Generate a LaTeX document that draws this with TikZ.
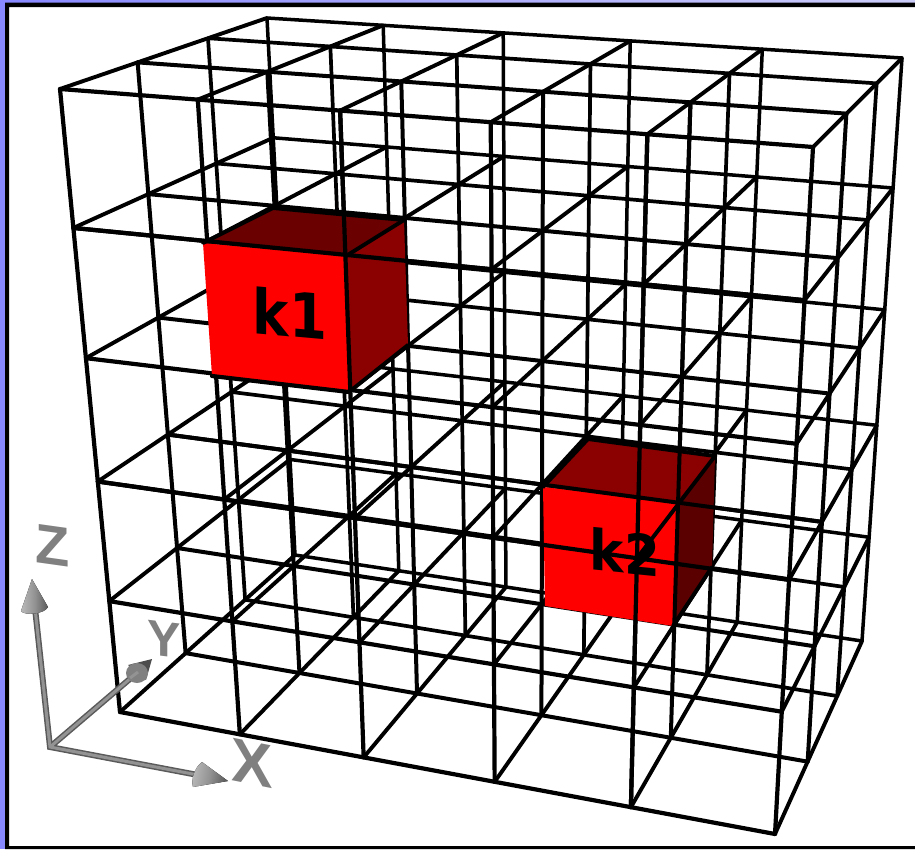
\documentclass[tikz,border=0pt]{standalone}
\usepackage{fontspec}
\usepackage{xcolor}
\newfontfamily\heavyfont{DejaVu Sans Bold}
\newfontfamily\axisfont{Liberation Sans Bold}
\usetikzlibrary{calc}
\definecolor{frameblue}{RGB}{136,136,255}
\definecolor{framepale}{RGB}{205,205,250}
\definecolor{topfaceA}{RGB}{106,0,0}
\definecolor{sidefaceA}{RGB}{139,0,0}
\definecolor{topfaceB}{RGB}{139,0,0}
\definecolor{sidefaceB}{RGB}{90,0,0}
\definecolor{axisgrey}{RGB}{128,128,128}
\newcommand{\gridX}{0/0,1/0.183,2/0.372,3/0.572,4/0.78,5/1}
\newcommand{\gridY}{0/0/4.2,1/0.375/4,2/0.715/3.7,3/1/3.5}
\newcommand{\gridZ}{0/0,1/0.223,2/0.432,3/0.63,4/0.822,5/1}

\begin{document}
\begin{tikzpicture}[
    x=1pt,y=-1pt,
    wire/.style={draw=black,line width=4.2pt,line cap=round},
    midwire/.style={draw=black,line width=4pt,line cap=round},
    deepwire/.style={draw=black,line width=3.9pt,line cap=round},
    shaft/.style={draw=axisgrey!70!black,line width=6pt},
    shaftlight/.style={draw=axisgrey!85!white,line width=3pt},
    tip/.style={draw=none,left color=axisgrey!55!white,right color=axisgrey!70!black,middle color=axisgrey!85!white},
    axislabel/.style={text=axisgrey,inner sep=0pt},
    cubelabel/.style={text=black,inner sep=0pt}
  ]
    \useasboundingbox (0,0) rectangle (915,849);
    % frame
    \fill[white] (0,0) rectangle (915,849);
    \shade[left color=frameblue,right color=framepale] (0,0) rectangle (915,2.5);
    \fill[frameblue] (0,0) rectangle (5,849);
    \fill[black] (5,2.5) rectangle (915,7) (5,2.5) rectangle (9,849) (5,846) rectangle (915,849);

    % corners of the block
    \coordinate (ftl) at (60,89);
    \coordinate (ftr) at (813,147);
    \coordinate (fbl) at (120,712);
    \coordinate (fbr) at (775,834);
    \coordinate (btl) at (267,18);
    \coordinate (btr) at (902,58);
    \coordinate (bbl) at (295,555);
    \coordinate (bbr) at (862,641);
    \foreach \j/\fy/\w in \gridY {
      \foreach \k/\fz in \gridZ {
        \coordinate (L\j\k) at ($($(ftl)!\fy!(btl)$)!\fz!($(fbl)!\fy!(bbl)$)$);
        \coordinate (R\j\k) at ($($(ftr)!\fy!(btr)$)!\fz!($(fbr)!\fy!(bbr)$)$);
        \foreach \i/\fx in \gridX {
          \coordinate (p\i\j\k) at ($(L\j\k)!\fx!(R\j\k)$);
        }
      }
    }

    % lattice
    \foreach \j/\fy/\w in \gridY {
      \foreach \i in {0,...,5} {
        \draw[line width=\w pt,line cap=round] (p\i\j0)--(p\i\j5);
      }
      \foreach \k in {0,...,5} {
        \draw[line width=\w pt,line cap=round] (p0\j\k)--(p5\j\k);
      }
    }
    \foreach \k in {0,...,5} {
      \foreach \i in {0,...,5} {
        \draw[deepwire] (p\i0\k)--(p\i3\k);
      }
    }

    % block k1
    \coordinate (ka) at (203,243);
    \coordinate (kb) at (346,256);
    \coordinate (kc) at (349,392);
    \coordinate (kd) at (212,376);
    \coordinate (ke) at (273,208);
    \coordinate (kf) at (404,220);
    \coordinate (kg) at (408,345);
    \fill[topfaceA] (ka)--(kb)--(kf)--(ke)--cycle;
    \fill[sidefaceA] (kb)--(kf)--(kg)--(kc)--cycle;
    \fill[red] (ka)--(kb)--(kc)--(kd)--cycle;
    \node[cubelabel,yslant=-0.09,xscale=0.88,font=\heavyfont\fontsize{62}{62}\selectfont] (k1) at (290,313) {k1};
    \draw[wire] (p200)--(p202);
    \draw[wire] (p001)--(p501);
    \draw[wire] (kd)--(kc);
    \draw[deepwire] (ka)--(ke)--(kf);
    \draw[deepwire] (kb)--(kf);
    \draw[deepwire] (kc)--(kg);

    % block k2
    \coordinate (ma) at (543,487);
    \coordinate (mb) at (677,502);
    \coordinate (mc) at (673,626);
    \coordinate (md) at (545,606);
    \coordinate (me) at (588,439);
    \coordinate (mf) at (715,456);
    \coordinate (mg) at (712,567);
    \fill[topfaceB] (ma)--(mb)--(mf)--(me)--cycle;
    \fill[sidefaceB] (mb)--(mf)--(mg)--(mc)--cycle;
    \fill[red] (ma)--(mb)--(mc)--(md)--cycle;
    \node[cubelabel,yslant=-0.1,xscale=0.92,font=\heavyfont\fontsize{56}{56}\selectfont] (k2) at (625,552) {k2};
    \draw[wire] (p400)--(p405);
    \draw[wire] (p003)--(p503);
    \draw[midwire] (p410)--(p414);
    \draw[midwire] (p013)--(p513);
    \draw[deepwire] (ma)--(me)--(mf);
    \draw[deepwire] (p403)--(mf);
    \draw[deepwire] (mc)--(mg);

    % axes
    \coordinate (axo) at (50,747);
    \coordinate (axz) at (35,608);
    \coordinate (axy) at (138,672);
    \coordinate (axx) at (198,775);
    \draw[shaft,line cap=round] (axz)--(axo)--(axx);
    \draw[shaft] (axo)--(axy);
    \draw[shaftlight] (axz)--(axo)--(axx);
    \draw[shaftlight] (axo)--(axy);
    \fill[tip] (32,579)--(48,607) .. controls (45,614) and (24,616) .. (21,611)--cycle;
    \fill[axisgrey!60!black] (152,659)--(146,680)--(128,665)--cycle;
    \fill[axisgrey] (137,673) ellipse (11 and 10);
    \draw[shaftlight] (130,678)--(138,672);
    \fill[tip,shading angle=80] (228,781) -- (202,762) .. controls (194,768) and (191,780) .. (193,787)--cycle;
    \node[axislabel,yslant=-0.14,font=\axisfont\fontsize{56}{56}\selectfont] (zlab) at (53,546) {Z};
    \node[axislabel,yslant=-0.12,font=\axisfont\fontsize{50}{50}\selectfont] (ylab) at (164,639) {Y};
    \node[axislabel,yslant=-0.2,font=\axisfont\fontsize{62}{62}\selectfont] (xlab) at (252,763) {X};
  \end{tikzpicture}
\end{document}
